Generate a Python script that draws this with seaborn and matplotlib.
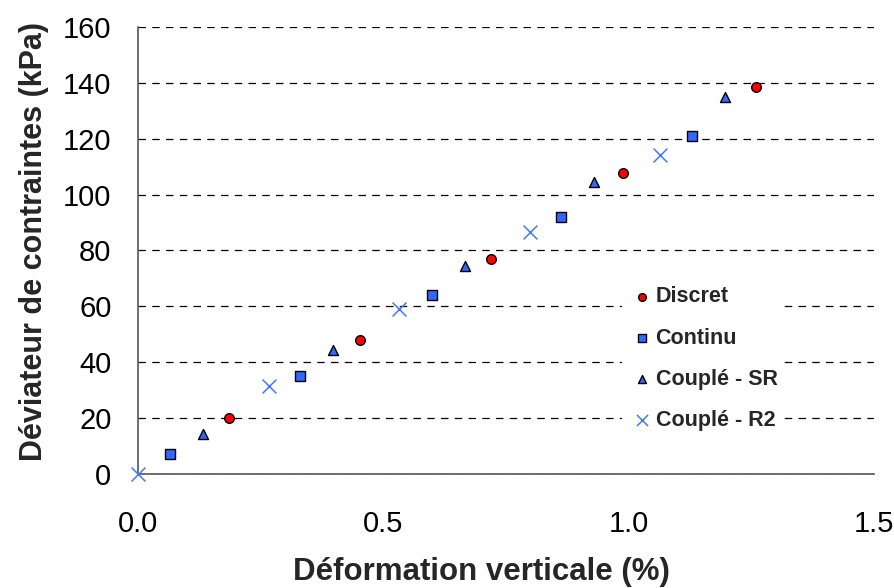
import matplotlib
matplotlib.use('Agg')
import matplotlib.pyplot as plt
import seaborn as sns
import pandas as pd

# Données
discret_x = [0.185, 0.452, 0.719, 0.988, 1.258]
discret_y = [19.9, 47.9, 77.0, 107.6, 138.6]
continu_x = [0.065, 0.331, 0.599, 0.862, 1.129]
continu_y = [7.2, 35.2, 63.9, 92.0, 121.1]
sr_x = [0.132, 0.398, 0.666, 0.929, 1.196]
sr_y = [14.2, 44.2, 74.3, 104.4, 134.9]
r2_x = [0.0, 0.267, 0.531, 0.798, 1.064]
r2_y = [0.0, 31.5, 59.1, 86.5, 114.1]

x_ticks = [0.0, 0.5, 1.0, 1.5]
x_tick_labels = ['0.0', '0.5', '1.0', '1.5']
y_ticks = [0, 20, 40, 60, 80, 100, 120, 140, 160]

sns.set_style('white')
plt.rcParams['font.family'] = ['Liberation Sans', 'DejaVu Sans']

fig = plt.figure(figsize=(8.95, 5.88), dpi=100)
ax = fig.add_axes([0.154, 0.194, 0.823, 0.760])

series = [
    ('Discret', discret_x, discret_y, 'o', '#ff0000', 'black', 48),
    ('Continu', continu_x, continu_y, 's', '#3366ff', 'black', 42),
    ('Couplé - SR', sr_x, sr_y, '^', '#3366ff', 'black', 52),
    ('Couplé - R2', r2_x, r2_y, 'x', '#4477ff', None, 100),
]
for name, xs, ys, mk, col, edge, size in series:
    df = pd.DataFrame({'x': xs, 'y': ys})
    if edge is None:
        sns.scatterplot(data=df, x='x', y='y', marker=mk, color=col, s=size,
                        linewidth=1.1, label=name, ax=ax, zorder=3, clip_on=False)
    else:
        sns.scatterplot(data=df, x='x', y='y', marker=mk, color=col, s=size,
                        edgecolor=edge, linewidth=1.0, label=name, ax=ax,
                        zorder=3, clip_on=False)

ax.set_xlim(0, 1.5)
ax.set_ylim(0, 160)
ax.set_xticks(x_ticks)
ax.set_xticklabels(x_tick_labels)
ax.set_yticks(y_ticks)
ax.tick_params(axis='both', labelsize=21, length=6, width=1, color='#333333',
               direction='out', labelcolor='black')
ax.tick_params(axis='x', pad=20)
ax.tick_params(axis='y', pad=13)
ax.yaxis.grid(True, linestyle=(0, (6, 5)), color='black', linewidth=0.9)
ax.set_axisbelow(True)
for s in ['top', 'right']:
    ax.spines[s].set_visible(False)
for s in ['left', 'bottom']:
    ax.spines[s].set_color('#555555')
    ax.spines[s].set_linewidth(1.2)

ax.set_xlabel('Déformation verticale (%)', fontsize=22.5, fontweight='bold')
ax.set_ylabel('Déviateur de contraintes (kPa)', fontsize=22, fontweight='bold')
ax.xaxis.set_label_coords(0.467, -0.185)
ax.yaxis.set_label_coords(-0.121, 0.521)

leg = ax.legend(loc='upper left', bbox_to_anchor=(0.643, 0.458), frameon=True,
                facecolor='white', edgecolor='none', framealpha=1,
                prop={'weight': 'bold', 'size': 15.5}, handletextpad=0.05,
                labelspacing=0.93, markerscale=0.8, borderpad=0.3,
                handlelength=1.2)

plt.savefig('out.png', dpi=100, facecolor='white')
plt.close()
